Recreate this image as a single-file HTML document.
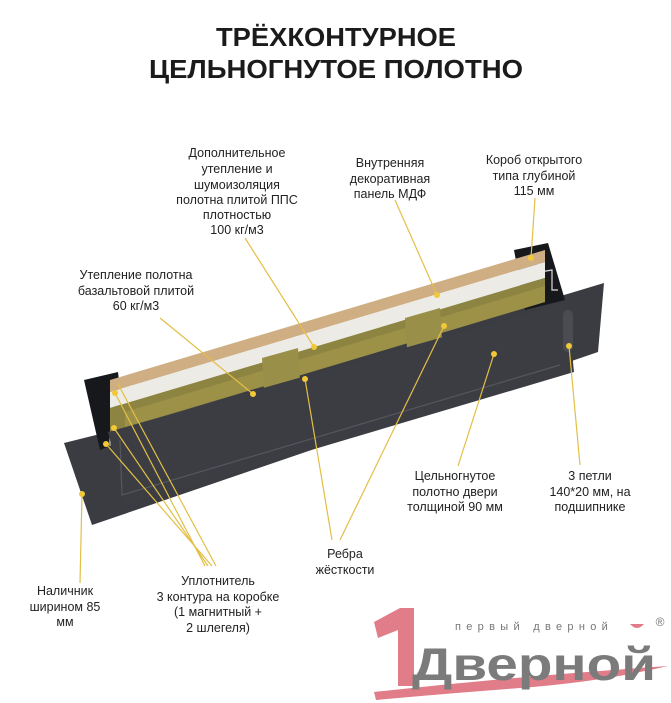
<!DOCTYPE html>
<html><head><meta charset="utf-8"><style>
html,body{margin:0;padding:0;background:#fff;}
svg{display:block;}
text{font-family:"Liberation Sans","DejaVu Sans",sans-serif;}
.l{font-size:12.5px;fill:#222;text-anchor:middle;}
.y{stroke:#e3bf45;stroke-width:1.2;fill:none;}
.d{fill:#f0c838;}
</style></head><body>
<svg width="671" height="703" viewBox="0 0 671 703" xmlns="http://www.w3.org/2000/svg">
<rect width="671" height="703" fill="#fff"/>
<text x="336" y="46" font-size="26" font-weight="bold" text-anchor="middle" fill="#1b1b1b" textLength="240" lengthAdjust="spacingAndGlyphs">ТРЁХКОНТУРНОЕ</text>
<text x="336" y="78" font-size="26" font-weight="bold" text-anchor="middle" fill="#1b1b1b" textLength="374" lengthAdjust="spacingAndGlyphs">ЦЕЛЬНОГНУТОЕ ПОЛОТНО</text>

<!-- casing (наличник) -->
<polygon points="64,443 92,525 598,352 604,283 108,432" fill="#3a3c42"/>
<!-- left frame box -->
<polygon points="84,380 118,372 126,440 100,450" fill="#17181b"/>
<path d="M112,384 L112,410 L118,410 L118,430 L110,432 L110,446" stroke="#ddd" stroke-width="1.2" fill="none"/>
<!-- right frame box -->
<polygon points="514,250 548,243 565,300 525,310" fill="#17181b"/>
<path d="M524,262 L540,258 L540,272 L552,270 L552,290 L558,290" stroke="#ddd" stroke-width="1.2" fill="none"/>
<!-- top layers -->
<polygon points="110,380 545,250 545,262 110,392" fill="#cfae84"/>
<polygon points="110,392 545,262 545,278 110,408" fill="#ecebe6"/>
<polygon points="110,408 545,278 545,302 110,432" fill="#8c8440"/>
<polygon points="125,412 545,286 545,302 125,428" fill="#a69a4c" opacity="0.6"/>
<!-- ribs -->
<polygon points="262,358 298,348 300,382 264,392" fill="#9a8f48"/>
<polygon points="405,318 440,308 442,338 407,348" fill="#9a8f48"/>
<!-- door face -->
<polygon points="108,432 567,302 574,372 126,505" fill="#3b3d43"/>
<polyline points="120,440 122,495 560,365" stroke="#55575d" stroke-width="1.2" fill="none"/>
<!-- hinge -->
<rect x="563" y="310" width="10" height="42" rx="5" fill="#4a4c52"/>

<!-- leaders -->
<line class="y" x1="245" y1="238" x2="314" y2="347"/><circle class="d" cx="314" cy="347" r="3"/>
<line class="y" x1="395" y1="200" x2="437" y2="295"/><circle class="d" cx="437" cy="295" r="3"/>
<line class="y" x1="535" y1="198" x2="531" y2="258"/><circle class="d" cx="531" cy="258" r="3"/>
<line class="y" x1="160" y1="318" x2="253" y2="394"/><circle class="d" cx="253" cy="394" r="3"/>
<line class="y" x1="458" y1="466" x2="494" y2="354"/><circle class="d" cx="494" cy="354" r="3"/>
<line class="y" x1="580" y1="465" x2="569" y2="346"/><circle class="d" cx="569" cy="346" r="3"/>
<line class="y" x1="332" y1="540" x2="305" y2="379"/><circle class="d" cx="305" cy="379" r="3"/>
<line class="y" x1="340" y1="540" x2="444" y2="326"/><circle class="d" cx="444" cy="326" r="3"/>
<line class="y" x1="80" y1="583" x2="82" y2="494"/><circle class="d" cx="82" cy="494" r="3"/>
<line class="y" x1="205" y1="566" x2="115" y2="393"/><circle class="d" cx="115" cy="393" r="3"/>
<line class="y" x1="208" y1="566" x2="114" y2="428"/><circle class="d" cx="114" cy="428" r="3"/>
<line class="y" x1="212" y1="566" x2="106" y2="444"/><circle class="d" cx="106" cy="444" r="3"/>
<line class="y" x1="216" y1="566" x2="118" y2="384"/>

<!-- labels -->
<text class="l" x="237" y="157">Дополнительное</text>
<text class="l" x="237" y="173">утепление и</text>
<text class="l" x="237" y="189">шумоизоляция</text>
<text class="l" x="237" y="204">полотна плитой ППС</text>
<text class="l" x="237" y="219">плотностью</text>
<text class="l" x="237" y="234">100 кг/м3</text>
<text class="l" x="390" y="167">Внутренняя</text>
<text class="l" x="390" y="183">декоративная</text>
<text class="l" x="390" y="198">панель МДФ</text>
<text class="l" x="534" y="164">Короб открытого</text>
<text class="l" x="534" y="180">типа глубиной</text>
<text class="l" x="534" y="195">115 мм</text>
<text class="l" x="136" y="279">Утепление полотна</text>
<text class="l" x="136" y="295">базальтовой  плитой</text>
<text class="l" x="136" y="310">60 кг/м3</text>
<text class="l" x="455" y="480">Цельногнутое</text>
<text class="l" x="455" y="496">полотно двери</text>
<text class="l" x="455" y="511">толщиной 90 мм</text>
<text class="l" x="590" y="480">3 петли</text>
<text class="l" x="590" y="496">140*20 мм, на</text>
<text class="l" x="590" y="511">подшипнике</text>
<text class="l" x="345" y="558">Ребра</text>
<text class="l" x="345" y="574">жёсткости</text>
<text class="l" x="65" y="595">Наличник</text>
<text class="l" x="65" y="611">ширином 85</text>
<text class="l" x="65" y="626">мм</text>
<text class="l" x="218" y="585">Уплотнитель</text>
<text class="l" x="218" y="601">3 контура на коробке</text>
<text class="l" x="218" y="616">(1 магнитный +</text>
<text class="l" x="218" y="632">2 шлегеля)</text>

<!-- logo -->
<path d="M374,622 L400,608 L414,608 L414,686 L398,686 L398,630 L378,638 Z" fill="#e07d88"/>
<path d="M374,692 Q520,676 668,666 Q600,682 520,688 Q440,694 376,700 Z" fill="#e07d88"/>
<text x="455" y="630" font-size="11" fill="#777" letter-spacing="5.3">первый дверной</text>
<path d="M630,624 Q637,632 644,624 Z" fill="#e07d88"/>
<text x="412" y="680" font-size="46" font-weight="bold" fill="#7b7b7b" textLength="244" lengthAdjust="spacingAndGlyphs">Дверной</text>
<text x="660" y="626" font-size="12" fill="#777" text-anchor="middle">®</text>
</svg>
</body></html>
